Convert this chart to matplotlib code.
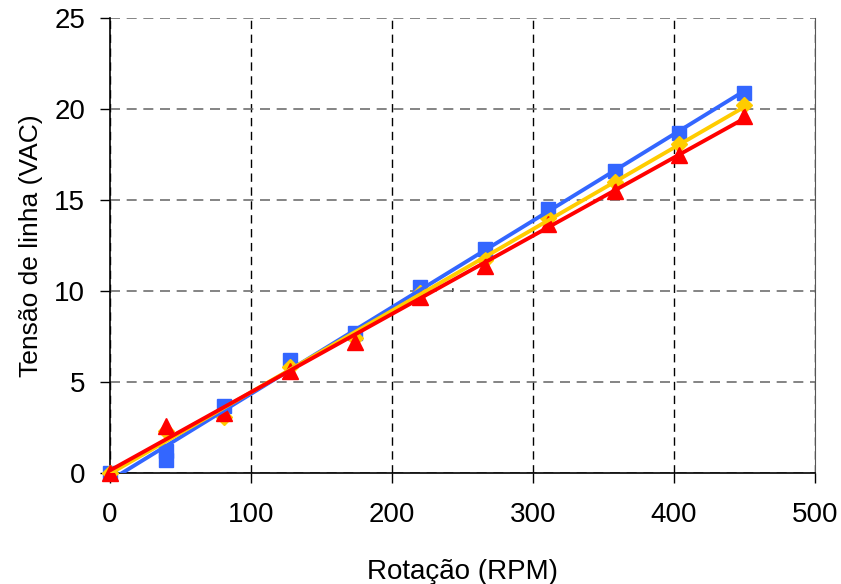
import numpy as np
import matplotlib.pyplot as plt

# rotation (RPM) and line voltage (VAC) for the three phases
rpm_blue = [0, 40, 40, 81, 128, 174, 220, 266, 311, 358, 404, 450]
v_blue = [0.0, 1.2, 0.7, 3.7, 6.2, 7.7, 10.2, 12.3, 14.5, 16.6, 18.7, 20.9]
rpm = [0, 40, 81, 128, 174, 220, 266, 311, 358, 404, 450]
v_yellow = [0.0, 2.3, 3.1, 5.8, 7.4, 9.9, 11.7, 14.0, 16.0, 18.1, 20.2]
v_red = [0.0, 2.6, 3.3, 5.6, 7.2, 9.7, 11.4, 13.7, 15.5, 17.5, 19.6]

x_ticks = [0, 100, 200, 300, 400, 500]
y_ticks = [0, 5, 10, 15, 20, 25]

series = [
    (rpm_blue, v_blue, "#3366ff", "s", 10),
    (rpm, v_yellow, "#ffcc00", "D", 8),
    (rpm, v_red, "#ff0000", "^", 11),
]

fig = plt.figure(figsize=(8.41, 5.84), dpi=100)
ax = fig.add_axes([0.1308, 0.190, 0.838, 0.779])

for xs, vals, color, marker, ms in series:
    ax.plot(xs, vals, linestyle="none", marker=marker, color=color,
            markersize=ms, zorder=3, clip_on=False)
for xs, vals, color, marker, ms in series:
    # linear trend line
    k, b = np.polyfit(np.array(xs, dtype=float), vals, 1)
    xx = np.array([0, 450])
    ax.plot(xx, k * xx + b, color=color, linewidth=2.8, zorder=4)

ax.text(243, 10.3, ",", fontsize=10, ha="center", va="center",
        family="Liberation Sans")

ax.set_xlim(0, 500)
ax.set_ylim(0, 25)
ax.set_xticks(x_ticks)
ax.set_yticks(y_ticks)

ax.xaxis.grid(True, color="black", linestyle=(0, (6, 4)), linewidth=1.0)
ax.yaxis.grid(True, color="#707070", linestyle=(0, (6, 4)), linewidth=1.2)
ax.set_axisbelow(True)

ax.spines["top"].set_visible(False)
ax.spines["right"].set_color("#555555")
ax.spines["left"].set_linewidth(1.2)
ax.spines["bottom"].set_linewidth(1.2)

ax.tick_params(axis="x", direction="out", length=7, width=1, pad=14)
ax.tick_params(axis="y", direction="out", length=7, width=1, pad=11)
for lab in ax.get_xticklabels() + ax.get_yticklabels():
    lab.set_family("Liberation Sans")
    lab.set_fontsize(20)

ax.set_xlabel("Rotação (RPM)", fontsize=20, family="Liberation Sans",
              labelpad=22)
ax.set_ylabel("Tensão de linha (VAC)", fontsize=19, family="Liberation Sans",
              labelpad=8)

fig.savefig("out.png", dpi=100)
